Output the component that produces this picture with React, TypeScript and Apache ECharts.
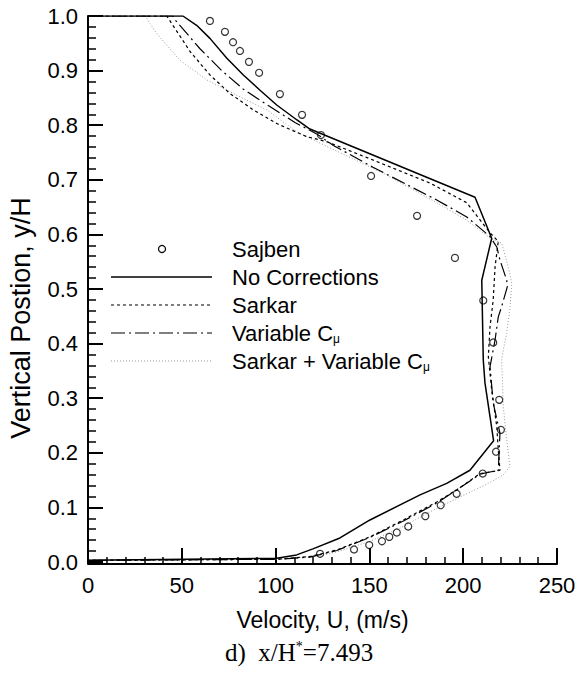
import { useEffect, useRef } from "react";
import * as echarts from "echarts";

// Velocity U (m/s), vertical position y/H
const sajben: [number, number][] = [
  [65.0, 0.991], [73.0, 0.971], [77.3, 0.952], [81.0, 0.936], [85.8, 0.916],
  [91.2, 0.896], [102.3, 0.857], [114.1, 0.819], [124.2, 0.782], [150.9, 0.707],
  [175.4, 0.634], [195.6, 0.557], [210.7, 0.479], [216.0, 0.402], [219.2, 0.297],
  [220.1, 0.242], [217.5, 0.202], [210.4, 0.162], [196.5, 0.125], [188.0, 0.104],
  [179.8, 0.084], [170.7, 0.065], [164.6, 0.054], [160.6, 0.046], [156.7, 0.038],
  [149.9, 0.031], [141.8, 0.023], [123.7, 0.015],
];

const noCorrections: [number, number][] = [
  [0, 1.0], [50.6, 1.0], [57.9, 0.983], [65.0, 0.959], [73.9, 0.923], [82.8, 0.892],
  [91.7, 0.864], [100.6, 0.837], [111.2, 0.81], [118.3, 0.793], [206.3, 0.668],
  [215.2, 0.593], [209.9, 0.516], [210.7, 0.37], [211.6, 0.328], [214.3, 0.266],
  [216.2, 0.222], [203.6, 0.168], [191.2, 0.144], [177.0, 0.123], [150.3, 0.077],
  [134.3, 0.044], [119.9, 0.024], [111.2, 0.013], [100.6, 0.007], [0, 0.003],
];

const sarkar: [number, number][] = [
  [0, 1.0], [42.0, 1.0], [54.4, 0.935], [65.0, 0.892], [75.7, 0.858], [88.1, 0.828],
  [100.6, 0.803], [116.6, 0.779], [127.2, 0.77], [155.7, 0.731], [182.3, 0.694],
  [201.9, 0.658], [214.3, 0.603], [218.7, 0.587], [217.0, 0.541], [216.0, 0.48],
  [214.3, 0.431], [213.4, 0.376], [215.2, 0.315], [217.9, 0.248], [218.7, 0.205],
  [219.6, 0.168], [209.0, 0.162], [196.5, 0.132], [185.9, 0.11], [168.1, 0.077],
  [150.3, 0.046], [132.6, 0.022], [118.3, 0.01], [100.6, 0.005], [0, 0.003],
];

const variableCmu: [number, number][] = [
  [0, 1.0], [45.3, 1.0], [46.4, 0.993], [59.7, 0.94], [71.3, 0.9], [82.8, 0.866],
  [96.1, 0.836], [110.3, 0.805], [121.9, 0.784], [130.8, 0.763], [151.9, 0.723],
  [185.9, 0.663], [201.9, 0.632], [214.3, 0.596], [217.9, 0.577], [219.6, 0.553],
  [223.2, 0.516], [223.5, 0.504], [220.5, 0.468], [218.7, 0.449], [217.0, 0.407],
  [214.3, 0.358], [216.0, 0.291], [219.6, 0.236], [219.2, 0.205], [218.7, 0.168],
  [209.0, 0.161], [196.5, 0.132], [185.9, 0.108], [168.1, 0.075], [150.3, 0.045],
  [132.6, 0.021], [118.3, 0.009], [100.6, 0.005], [0, 0.003],
];

const sarkarVariableCmu: [number, number][] = [
  [0, 1.0], [30.4, 1.0], [36.6, 0.968], [49.0, 0.919], [63.3, 0.883], [81.0, 0.852],
  [95.3, 0.828], [111.2, 0.788], [118.3, 0.776], [157.4, 0.712], [185.9, 0.658],
  [201.9, 0.626], [214.3, 0.593], [220.5, 0.584], [224.0, 0.541], [225.9, 0.51],
  [225.0, 0.468], [223.2, 0.419], [221.7, 0.394], [220.5, 0.37], [221.4, 0.284],
  [223.2, 0.223], [224.9, 0.175], [221.2, 0.159], [211.6, 0.141], [198.3, 0.119],
  [182.3, 0.092], [166.3, 0.062], [150.3, 0.038], [134.3, 0.02], [123.7, 0.011],
  [100.6, 0.005], [0, 0.003],
];

const legendNames = ["Sajben", "No Corrections", "Sarkar", "Variable C", "Sarkar + Variable C"];

const SANS = "'Liberation Sans', Arial, Helvetica, sans-serif";
const SERIF = "'Liberation Serif', 'Times New Roman', serif";

export default function App() {
  const ref = useRef<HTMLDivElement>(null);

  useEffect(() => {
    if (!ref.current) return;
    const chart = echarts.init(ref.current, null, { renderer: "svg" });

    const solidStyle = { color: "#000", width: 1.5, type: "solid" as any };
    const sarkarStyle = { color: "#000", width: 1.2, type: [3, 3] as any };
    const varStyle = { color: "#000", width: 1.2, type: [14, 4, 2, 4] as any };
    const dotStyle = { color: "#999", width: 1, type: [1, 2] as any };

    const legendX1 = 111;
    const legendX2 = 212;
    const legendTextX = 232;
    const legendY0 = 249;
    const legendDy = 28;

    const labelRich = {
      a: { fontSize: 22, fontFamily: SANS, color: "#000", lineHeight: 24 },
      b: { fontSize: 12, fontFamily: SANS, color: "#000", verticalAlign: "bottom" as any },
    };

    const graphics: any[] = [
      {
        type: "circle",
        shape: { cx: 162, cy: legendY0, r: 3.5 },
        style: { fill: "none", stroke: "#000", lineWidth: 1.2 },
      },
      {
        type: "line",
        shape: { x1: legendX1, y1: legendY0 + legendDy, x2: legendX2, y2: legendY0 + legendDy },
        style: { stroke: "#000", lineWidth: solidStyle.width },
      },
      {
        type: "line",
        shape: { x1: legendX1, y1: legendY0 + 2 * legendDy, x2: legendX2, y2: legendY0 + 2 * legendDy },
        style: { stroke: "#000", lineWidth: sarkarStyle.width, lineDash: [3, 3] },
      },
      {
        type: "line",
        shape: { x1: legendX1, y1: legendY0 + 3 * legendDy, x2: legendX2, y2: legendY0 + 3 * legendDy },
        style: { stroke: "#000", lineWidth: varStyle.width, lineDash: [14, 4, 2, 4] },
      },
      {
        type: "line",
        shape: { x1: legendX1, y1: legendY0 + 4 * legendDy, x2: legendX2, y2: legendY0 + 4 * legendDy },
        style: { stroke: "#999", lineWidth: dotStyle.width, lineDash: [1, 2] },
      },
    ];
    legendNames.forEach((name, i) => {
      const withMu = i >= 3;
      graphics.push({
        type: "text",
        x: legendTextX,
        y: legendY0 + i * legendDy,
        style: {
          text: withMu ? `{a|${name}}{b|μ}` : `{a|${name}}`,
          rich: labelRich,
          align: "left",
          verticalAlign: "middle",
        },
      });
    });
    graphics.push({
      type: "text",
      x: 225,
      y: 652,
      style: {
        text: "{a|d)  x/H}{s|*}{a|=7.493}",
        rich: {
          a: { fontSize: 25, fontFamily: SERIF, color: "#111", lineHeight: 26 },
          s: { fontSize: 14, fontFamily: SERIF, color: "#111", verticalAlign: "top" },
        },
        align: "left",
        verticalAlign: "middle",
      },
    });

    chart.setOption({
      animation: false,
      backgroundColor: "#fff",
      grid: { left: 88, right: 23, top: 16, bottom: 112, containLabel: false, outerBoundsMode: "none" },
      xAxis: {
        type: "value",
        min: 0,
        max: 250,
        interval: 50,
        offset: 2,
        name: "Velocity, U, (m/s)",
        nameLocation: "middle",
        nameGap: 44,
        nameMoveOverlap: false,
        nameTextStyle: { fontSize: 23, fontFamily: SANS, color: "#000" },
        axisLine: { show: true, onZero: false, lineStyle: { color: "#000", width: 2 } },
        axisTick: { show: true, inside: true, length: 16, lineStyle: { color: "#000", width: 2 } },
        minorTick: { show: true, splitNumber: 5, length: 7, lineStyle: { color: "#000", width: 1.5 } },
        axisLabel: { fontSize: 22, fontFamily: SANS, color: "#000", margin: 10 },
        splitLine: { show: false },
        minorSplitLine: { show: false },
      },
      yAxis: {
        type: "value",
        min: 0,
        max: 1,
        interval: 0.1,
        name: "Vertical Postion, y/H",
        nameLocation: "middle",
        nameGap: 54,
        nameMoveOverlap: false,
        nameTextStyle: { fontSize: 27, fontFamily: SANS, color: "#000", padding: [0, 58, 0, 0] },
        axisLine: { show: true, onZero: false, lineStyle: { color: "#000", width: 2 } },
        axisTick: { show: true, inside: true, length: 15, lineStyle: { color: "#000", width: 2 } },
        minorTick: { show: true, splitNumber: 5, length: 8, lineStyle: { color: "#000", width: 1.5 } },
        axisLabel: {
          fontSize: 22,
          fontFamily: SANS,
          color: "#000",
          margin: 10,
          formatter: (v: number) => v.toFixed(1),
        },
        splitLine: { show: false },
        minorSplitLine: { show: false },
      },
      graphic: graphics,
      series: [
        {
          name: "No Corrections",
          type: "line",
          data: noCorrections,
          symbol: "none",
          lineStyle: solidStyle,
          z: 3,
        },
        {
          name: "Sarkar",
          type: "line",
          data: sarkar,
          symbol: "none",
          lineStyle: sarkarStyle,
          z: 3,
        },
        {
          name: "Variable Cμ",
          type: "line",
          data: variableCmu,
          symbol: "none",
          lineStyle: varStyle,
          z: 3,
        },
        {
          name: "Sarkar + Variable Cμ",
          type: "line",
          data: sarkarVariableCmu,
          symbol: "none",
          lineStyle: dotStyle,
          z: 2,
        },
        {
          name: "Sajben",
          type: "scatter",
          data: sajben,
          symbol: "circle",
          symbolSize: 7,
          itemStyle: { color: "rgba(255,255,255,0)", borderColor: "#000", borderWidth: 1.2 },
          z: 5,
        },
      ],
    });

    return () => {
      chart.dispose();
    };
  }, []);

  return (
    <div
      ref={ref}
      style={{ position: "absolute", left: 0, top: 0, width: 580, height: 674, background: "#fff" }}
    />
  );
}
